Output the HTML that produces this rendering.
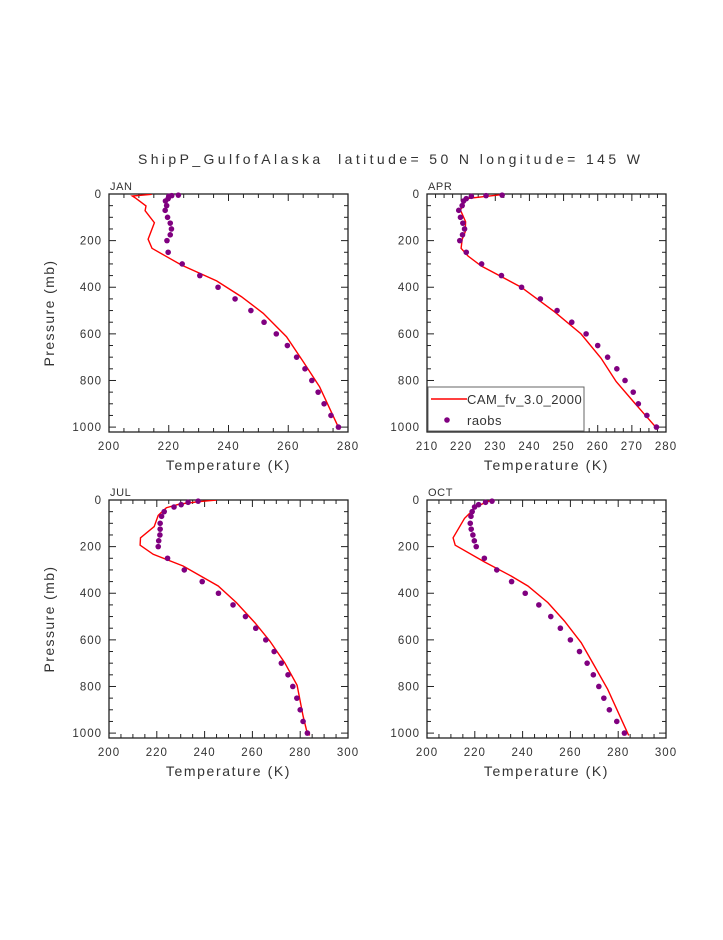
<!DOCTYPE html>
<html><head><meta charset="utf-8"><style>
body{margin:0;background:#fff;}
svg text{font-family:"Liberation Sans",sans-serif;fill:#333;white-space:pre;}
</style></head><body>
<svg id="chart" width="723" height="935" viewBox="0 0 723 935">
<text x="138" y="164" font-size="14" textLength="502" lengthAdjust="spacing" xml:space="preserve">ShipP_GulfofAlaska  latitude= 50 N longitude= 145 W</text>
</svg>
<script>
// JAN
const janModelT=[214.3,207.8,209,212.4,212.1,215.2,213.1,214.4,219.3,224.3,236,244.3,251.6,259.4,265,270.5,276.7,277.4];
const janModelP=[1.4,8.6,18.6,51,71.5,123,194,233,269,305,373,440,512,612,719,827,998,1010];
const janObsT=[223.2,221,220,219.8,218.9,219.3,218.8,219.6,220.5,220.9,220.5,219.4,219.8,224.5,230.4,236.5,242.2,247.5,251.9,256,259.7,262.8,265.6,267.9,270,272,274.3,276.8];
// APR
const aprModelT=[231.7,222,221.3,219.8,221.3,221.2,220.3,220,222,225.9,237.6,247.3,255.1,261,265.4,271.7,277.3];
const aprModelP=[3,19,26,69,119,162,194,233,266,309,400,505,600,705,805,912,1005];
const aprObsT=[232,227.3,223,221.5,220.7,220.3,219.3,219.8,220.5,221,220.4,219.6,221.5,226,231.8,237.7,243.2,248.1,252.4,256.6,260,262.9,265.6,268,270.4,271.9,274.4,277.2];
// JUL
const julModelT=[245,238,229.7,224,220.6,218.9,213.2,213,218.5,231,245.7,253.3,261,267.3,273.5,278.7,281.2,282.9,284];
const julModelP=[0,7,17,33,66,114,162,194,233,283,369,440,526,605,698,795,927,998,1010];
const julObsT=[237.3,233.1,230.2,227.2,223.1,222,221.4,221.4,221.3,220.8,220.6,224.5,231.5,239,245.8,251.9,257.1,261.4,265.6,269.1,272.1,274.9,276.9,278.6,280,281.2,283];
// OCT
const octModelT=[228.3,225.5,220.6,215.7,210.9,211.8,224.1,235.2,242.2,250.6,257.5,264.5,270.1,275.6,284.4];
const octModelP=[0,6,29,79,162,194,266,326,369,440,519,612,712,812,1010];
const octObsT=[227.2,224.5,221.6,219.9,218.9,218.4,218.1,218.5,219.2,219.8,220.6,224,229.2,235.4,241.1,246.8,251.8,255.8,260,263.8,267,269.6,271.9,274,276.3,279.4,282.6];
const obsP28=[5,7,10,20,30,50,70,100,125,150,175,200,250,300,350,400,450,500,550,600,650,700,750,800,850,900,950,1000];
const obsP27=[5,10,20,30,50,70,100,125,150,175,200,250,300,350,400,450,500,550,600,650,700,750,800,850,900,950,1000];
const janXTicks=[200,220,240,260,280], aprXTicks=[210,220,230,240,250,260,270,280], summerXTicks=[200,220,240,260,280,300];
const yTicks=[0,200,400,600,800,1000];

const NS="http://www.w3.org/2000/svg";
const svg=document.getElementById('chart');
function mk(tag,attrs,parent){const e=document.createElementNS(NS,tag);for(const k in attrs)e.setAttribute(k,attrs[k]);(parent||svg).appendChild(e);return e;}

function panel(id,label,x0,y0,xmin,xmax,xticks,minorStep,mT,mP,oT,oP,legend){
  const W=239,H=238,pMax=1021;
  const g=mk('g',{});
  
  
  const sx=v=>x0+(v-xmin)/(xmax-xmin)*W;
  const sy=p=>y0+p/pMax*H;
  const fr=mk('rect',{x:x0,y:y0,width:W,height:H,fill:'none',stroke:'#222','stroke-width':1.3},g);
  
  
  const lt=mk('text',{x:x0+1,y:y0-4,'font-size':11,'letter-spacing':0.6},g);lt.textContent=label;
  
  
  for(let v=xmin;v<=xmax+1e-6;v+=minorStep){const X=sx(v);const maj=xticks.some(t=>Math.abs(t-v)<1e-6);const L=maj?7:4;
    mk('line',{x1:X,y1:y0+H,x2:X,y2:y0+H-L,stroke:'#222','stroke-width':1},g);
    mk('line',{x1:X,y1:y0,x2:X,y2:y0+L,stroke:'#222','stroke-width':1},g);}
  xticks.forEach(v=>{const t=mk('text',{x:sx(v),y:y0+H+18,'font-size':11.5,'text-anchor':'middle','letter-spacing':1},g);t.textContent=v;
    
    });
  for(let p=0;p<=1000;p+=50){const Y=sy(p);const maj=p%200===0;const L=maj?7:4;
    mk('line',{x1:x0,y1:Y,x2:x0+L,y2:Y,stroke:'#222','stroke-width':1},g);
    mk('line',{x1:x0+W,y1:Y,x2:x0+W-L,y2:Y,stroke:'#222','stroke-width':1},g);}
  yTicks.forEach(p=>{const t=mk('text',{x:x0-7,y:sy(p)+4,'font-size':11.5,'text-anchor':'end','letter-spacing':1},g);t.textContent=p;
    
    });
  const xt=mk('text',{x:x0+W/2,y:y0+H+38,'font-size':14,'text-anchor':'middle','letter-spacing':1.6},g);xt.textContent='Temperature (K)';
  
  
  if(x0<200){const yt=mk('text',{x:0,y:0,'font-size':14,'text-anchor':'middle','letter-spacing':1.4,transform:`translate(${x0-55},${y0+H/2}) rotate(-90)`},g);yt.textContent='Pressure (mb)';
    
    }
  const cid='clip-'+id;
  const cp=mk('clipPath',{id:cid},g);mk('rect',{x:x0,y:y0,width:W,height:H},cp);
  const pts=mT.map((t,i)=>sx(t).toFixed(1)+','+sy(mP[i]).toFixed(1)).join(' ');
  const line=mk('polyline',{points:pts,fill:'none',stroke:'#f00','stroke-width':1.4,'clip-path':`url(#${cid})`},g);
  
  
  oT.forEach((t,i)=>{const c=mk('circle',{cx:sx(t),cy:sy(oP[i]),r:2.8,fill:'#800080'},g);
    
    });
  if(legend){const lg=mk('g',{},g);
    
    
    mk('rect',{x:x0+1,y:y0+H-45,width:156,height:44,fill:'#fff',stroke:'#666','stroke-width':1},lg);
    mk('line',{x1:x0+4,y1:y0+H-33,x2:x0+40,y2:y0+H-33,stroke:'#f00','stroke-width':1.4},lg);
    const a=mk('text',{x:x0+40,y:y0+H-28,'font-size':13,'letter-spacing':0.5},lg);a.textContent='CAM_fv_3.0_2000';
    
    
    mk('circle',{cx:x0+20,cy:y0+H-12,r:2.8,fill:'#800080'},lg);
    const b=mk('text',{x:x0+40,y:y0+H-7,'font-size':13,'letter-spacing':0.5},lg);b.textContent='raobs';
    
    }
}
panel('jan','JAN',109,194,200,280,janXTicks,5,janModelT,janModelP,janObsT,obsP28,false);
panel('apr','APR',427,194,210,280,aprXTicks,2.5,aprModelT,aprModelP,aprObsT,obsP28,true);
panel('jul','JUL',109,500,200,300,summerXTicks,5,julModelT,julModelP,julObsT,obsP27,false);
panel('oct','OCT',427,500,200,300,summerXTicks,5,octModelT,octModelP,octObsT,obsP27,false);
</script>
</body></html>
